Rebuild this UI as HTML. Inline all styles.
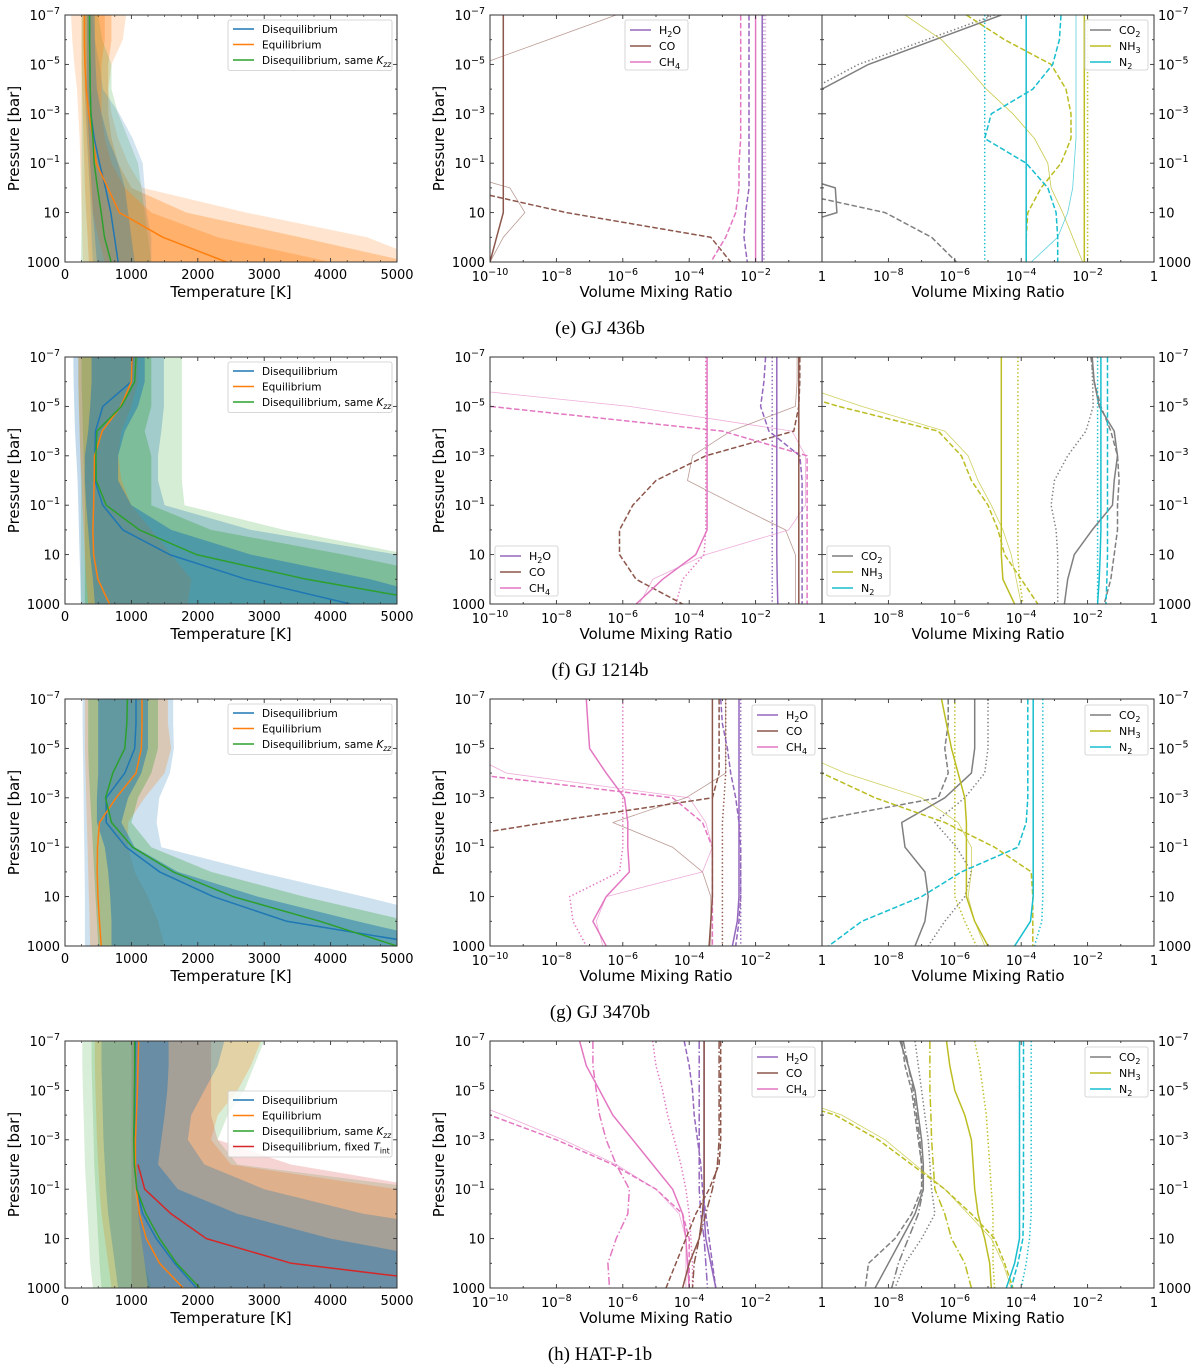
<!DOCTYPE html>
<html><head><meta charset="utf-8">
<style>
html,body{margin:0;padding:0;background:#fff;}
svg{display:block;font-family:"DejaVu Sans","Liberation Sans",sans-serif;}
</style></head>
<body>
<svg id="fig" width="1200" height="1371" viewBox="0 0 1200 1371" xmlns="http://www.w3.org/2000/svg"></svg>
<script>
// ---------- data (pressure levels log10 bar) ----------
const pLevels=[-7,-6,-5,-4,-3,-2,-1,0,1,2,3];
const captions=["(e) GJ 436b","(f) GJ 1214b","(g) GJ 3470b","(h) HAT-P-1b"];
const tempTicks=[0,1000,2000,3000,4000,5000];
const presTicks=[-7,-5,-3,-1,1,3];
const vmrTicks=[-10,-8,-6,-4,-2,0];

// Row 1 temperature profiles (K)
const t1_diseq=[370,370,375,380,390,440,520,610,690,745,800];
const t1_equil=[290,290,300,320,360,420,470,645,820,1475,2430];
const t1_same=[370,370,375,380,390,420,440,490,545,595,695];
const b1_oLight_lo=[90,110,140,180,200,220,230,240,250,260,270];
const b1_oLight_hi=[920,870,700,650,700,800,950,1170,2730,4550,5500];
const b1_oMed_lo=[250,250,250,260,270,280,290,300,320,340,360];
const b1_oMed_hi=[700,700,650,650,650,700,800,1000,1830,3540,5200];
const b1_oDark_lo=[300,300,300,300,320,340,360,380,420,500,600];
const b1_oDark_hi=[600,600,550,550,550,600,700,900,1300,2300,4000];
const b1_blue_lo=[280,280,290,300,310,330,350,370,390,400,420];
const b1_blue_hi=[420,450,520,570,820,1020,1170,1200,1230,1300,1300];
const b1_green_lo=[250,250,250,250,250,250,250,250,250,245,240];
const b1_green_hi=[500,560,700,700,800,950,1100,1150,1200,1250,1300];
const b1_dark_lo=[330,330,330,330,340,360,380,400,420,450,480];
const b1_dark_hi=[450,450,460,480,550,650,800,900,950,1000,1050];

// Row 2
const t2_diseq=[1020,1000,570,460,450,450,570,870,1575,2730,4300];
const t2_equil=[1010,1000,840,560,445,440,430,420,430,495,670];
const t2_same=[1070,1050,850,480,465,470,620,1120,1980,3640,5760];
const b2_gLight_lo=[200,200,210,220,230,240,240,240,240,240,240];
const b2_gLight_hi=[1760,1760,1760,1760,1760,1760,1800,3300,5200,6500,8000];
const b2_teal_lo=[125,130,140,150,170,190,200,210,220,230,240];
const b2_teal_hi=[1490,1490,1490,1450,1400,1400,1500,2800,5000,7000,9000];
const b2_gMed_lo=[250,250,260,270,280,290,300,300,300,300,300];
const b2_gMed_hi=[1300,1300,1300,1200,1300,1300,1300,2200,4200,6000,8000];
const b2_orange_lo=[200,200,210,220,230,250,260,280,300,320,350];
const b2_orange_hi=[1100,1100,1000,850,800,850,1000,1300,1600,1900,1850];
const b2_dark_lo=[400,400,380,350,300,300,320,350,380,420,450];
const b2_dark_hi=[1200,1200,1100,900,800,800,1000,1600,2800,4600,6000];

// Row 3
const t3_diseq=[1070,1070,1050,900,620,620,920,1425,2230,3340,5600];
const t3_equil=[1160,1160,1150,1070,770,520,490,485,495,520,545];
const t3_same=[940,930,900,720,610,700,1020,1630,2530,3840,5000];
const b3_env_lo=[265,265,270,275,280,285,290,295,300,300,300];
const b3_env_hi=[1630,1630,1640,1580,1420,1380,1450,2900,4500,6000,8000];
const b3_orange_lo=[300,300,300,310,320,330,340,350,360,370,380];
const b3_orange_hi=[1550,1550,1600,1500,1200,950,950,1050,1250,1400,1500];
const b3_teal_lo=[350,350,350,360,380,400,420,440,460,480,500];
const b3_teal_hi=[1400,1400,1400,1300,1100,1000,1300,2200,3600,5200,7000];
const b3_dark_lo=[500,500,500,500,480,480,600,650,680,700,700];
const b3_dark_hi=[1250,1250,1250,1150,950,850,1050,1700,2900,4400,6000];

// Row 4
const t4_diseq=[1060,1055,1050,1050,1045,1045,1080,1170,1375,1650,1980];
const t4_equil=[1110,1100,1090,1075,1060,1060,1075,1120,1225,1425,1780];
const t4_same=[1050,1050,1045,1040,1035,1045,1080,1220,1425,1680,2030];
const t4_fixed=[NaN,NaN,NaN,NaN,NaN,1100,1200,1600,2130,3410,6500];
const b4_env_lo=[260,260,270,280,290,300,320,340,360,380,420];
const b4_env_hi=[3000,2850,2700,2450,2300,2600,5500,9000,9000,9000,9000];
const b4_orange_lo=[450,450,460,470,480,500,520,550,600,650,700];
const b4_orange_hi=[2950,2800,2600,2300,2200,2500,5000,9000,9000,9000,9000];
const b4_red_lo=[1000,1000,1000,1000,1000,1000,1000,1000,1000,1000,1000];
const b4_red_hi=[2200,2200,2200,2200,2300,3400,5600,9000,9000,9000,9000];
const b4_gray_lo=[550,550,560,570,580,600,620,650,700,750,800];
const b4_gray_hi=[2400,2300,2100,1900,1850,2100,3000,4500,7000,9000,9000];
const b4_left_lo=[400,400,410,420,430,440,460,480,500,520,550];
const b4_left_hi=[1050,1050,1050,1050,1050,1050,1050,1100,1150,1200,1300];
const b4_dark_lo=[1050,1050,1050,1050,1050,1050,1080,1100,1150,1200,1250];
const b4_dark_hi=[1560,1560,1540,1500,1450,1400,1700,2600,4000,6000,9000];

// ---------- VMR profiles (log10 VMR) ----------
const v1_h2o_s=[-1.8,-1.8,-1.8,-1.8,-1.8,-1.8,-1.8,-1.8,-1.8,-1.8,-1.8];
const v1_h2o_d=[-2.2,-2.2,-2.2,-2.2,-2.2,-2.2,-2.2,-2.2,-2.3,-2.35,-2.25];
const v1_h2o_t=[-1.75,-1.75,-1.75,-1.75,-1.75,-1.75,-1.75,-1.75,-1.75,-1.75,-1.75];
const v1_co_s=[-9.6,-9.6,-9.6,-9.6,-9.6,-9.6,-9.6,-9.6,-9.6,-9.8,-10];
const v1_co_d=[-14,-14,-14,-14,-14,-14,-14,-11,-7.7,-3.35,-2.75];
const v1_co_t1=[-6.2,-8.25,-10.3,-12.4,-14,-14,-14,-14,-14,-14,-14];
const v1_co_t2=[-14,-14,-14,-14,-14,-14,-12,-9.4,-8.95,-9.6,-10];
const v1_ch4_s=[-2.0,-2.0,-2.0,-2.0,-2.0,-2.0,-2.0,-2.0,-2.0,-2.0,-2.0];
const v1_ch4_d=[-2.45,-2.45,-2.45,-2.45,-2.45,-2.45,-2.5,-2.5,-2.6,-2.9,-3.35];
const v1_ch4_t=[-1.7,-1.7,-1.7,-1.7,-1.7,-1.7,-1.7,-1.7,-1.72,-1.75,-1.75];
const w1_co2_s=[-4.6,-6.6,-8.6,-10,-12,-14,-12,-9.6,-9.55,-12,-14];
const w1_co2_t=[-4.8,-6.85,-8.9,-10.3,-12.5,-14,-14,-14,-14,-14,-14];
const w1_co2_d=[-14,-14,-14,-14,-14,-14,-14,-11.5,-8.1,-6.7,-5.95];
const w1_nh3_s=[-2.1,-2.1,-2.1,-2.1,-2.1,-2.1,-2.1,-2.1,-2.1,-2.1,-2.1];
const w1_nh3_o=[-2.0,-2.0,-2.0,-2.0,-2.0,-2.0,-2.0,-2.0,-2.0,-2.0,-2.0];
const w1_nh3_t=[-7.5,-6.4,-5.7,-5.05,-4.25,-3.6,-3.2,-3.1,-2.75,-2.45,-2.15];
const w1_nh3_d=[-5.65,-4.5,-3.1,-2.65,-2.5,-2.5,-2.8,-3.4,-3.8,-3.85,-3.85];
const w1_n2_s=[-3.85,-3.85,-3.85,-3.85,-3.85,-3.85,-3.85,-3.85,-3.85,-3.85,-3.85];
const w1_n2_o=[-5.1,-5.1,-5.1,-5.1,-5.1,-5.1,-5.1,-5.1,-5.1,-5.1,-5.1];
const w1_n2_d=[-2.8,-2.85,-3.05,-3.65,-4.9,-5.1,-3.85,-3.2,-2.95,-2.9,-2.9];
const w1_n2_t=[-2.35,-2.35,-2.35,-2.35,-2.35,-2.35,-2.4,-2.45,-2.6,-2.9,-3.7];

const v2_h2o_s=[-1.36,-1.36,-1.36,-1.36,-1.36,-1.36,-1.36,-1.36,-1.36,-1.35,-1.33];
const v2_h2o_d=[-1.7,-1.75,-1.85,-1.6,-0.67,-0.6,-0.6,-0.6,-0.6,-0.6,-0.6];
const v2_h2o_o=[-1.5,-1.5,-1.5,-1.5,-1.5,-1.5,-1.5,-1.5,-1.5,-1.5,-1.5];
const v2_co_s=[-0.7,-0.7,-0.7,-0.7,-0.7,-0.7,-0.7,-0.7,-0.7,-0.7,-0.7];
const v2_co_d=[-0.67,-0.67,-0.7,-0.85,-3.5,-5.0,-5.7,-6.1,-6.1,-5.6,-4.2];
const v2_co_t=[-0.75,-0.75,-0.8,-2.75,-3.9,-4.05,-2.6,-1.1,-0.8,-0.8,-0.8];
const v2_ch4_s=[-3.46,-3.46,-3.46,-3.46,-3.46,-3.46,-3.46,-3.46,-3.8,-4.8,-5.6];
const v2_ch4_o=[-3.5,-3.5,-3.5,-3.5,-3.5,-3.5,-3.5,-3.5,-3.55,-4.2,-4.4];
const v2_ch4_d=[-14,-12,-10,-3.0,-0.45,-0.45,-0.45,-0.45,-0.45,-0.45,-0.45];
const v2_ch4_t=[-14,-13,-5.8,-0.9,-0.5,-0.5,-0.5,-1.0,-3.5,-5.1,-5.5];
const w2_co2_s=[-1.86,-1.8,-1.65,-1.2,-1.1,-1.2,-1.25,-1.86,-2.4,-2.6,-2.7];
const w2_co2_d=[-1.9,-1.8,-1.6,-1.3,-1.1,-1.05,-1.1,-1.1,-1.2,-1.3,-1.5];
const w2_co2_o=[-1.88,-1.85,-1.83,-2.05,-2.6,-3.0,-3.1,-2.95,-2.9,-2.9,-2.9];
const w2_nh3_s=[-4.6,-4.6,-4.6,-4.6,-4.6,-4.6,-4.6,-4.6,-4.6,-4.55,-4.2];
const w2_nh3_o=[-4.1,-4.1,-4.1,-4.1,-4.1,-4.1,-4.1,-4.1,-4.1,-4.05,-3.95];
const w2_nh3_d=[-14,-12,-9.5,-6.5,-5.8,-5.5,-5.0,-4.7,-4.5,-4.0,-3.5];
const w2_nh3_t=[-14,-11,-8.8,-6.3,-5.6,-5.3,-4.9,-4.55,-4.3,-4.15,-4.0];
const w2_n2_s=[-1.6,-1.6,-1.6,-1.6,-1.6,-1.6,-1.6,-1.6,-1.62,-1.65,-1.7];
const w2_n2_d=[-1.4,-1.4,-1.4,-1.4,-1.4,-1.4,-1.4,-1.4,-1.4,-1.42,-1.45];
const w2_n2_o=[-1.7,-1.7,-1.7,-1.7,-1.7,-1.7,-1.7,-1.7,-1.7,-1.7,-1.7];

const v3_h2o_s=[-2.5,-2.5,-2.5,-2.5,-2.5,-2.5,-2.5,-2.5,-2.5,-2.55,-2.7];
const v3_h2o_d=[-3.05,-3.0,-2.85,-2.75,-2.6,-2.5,-2.45,-2.45,-2.45,-2.5,-2.6];
const v3_h2o_o=[-2.45,-2.45,-2.45,-2.45,-2.45,-2.45,-2.45,-2.45,-2.45,-2.45,-2.45];
const v3_co_s=[-3.3,-3.3,-3.3,-3.3,-3.3,-3.3,-3.3,-3.3,-3.3,-3.35,-3.4];
const v3_co_d=[-3.1,-3.1,-3.1,-3.1,-3.3,-8.3,-13,-14,-14,-14,-14];
const v3_co_t=[-2.9,-2.9,-2.9,-2.9,-4.1,-6.3,-4.5,-3.6,-3.35,-3.35,-3.35];
const v3_co_o=[-2.9,-2.9,-2.9,-2.9,-2.95,-3.0,-3.0,-3.0,-3.0,-3.0,-3.0];
const v3_ch4_s=[-7.1,-7.05,-7.0,-6.5,-5.95,-5.85,-5.85,-5.8,-6.5,-6.9,-6.5];
const v3_ch4_o=[-6,-6,-6,-6,-6,-6,-6,-6.1,-7.6,-7.5,-7.1];
const v3_ch4_d=[-14,-13,-12,-10.8,-4.5,-3.6,-3.3,-3.3,-3.3,-3.3,-3.3];
const v3_ch4_t=[-14,-12.5,-11,-9.5,-4.0,-3.5,-3.3,-3.6,-6.5,-6.8,-6.6];
const w3_co2_s=[-5.4,-5.4,-5.4,-5.5,-6.3,-7.6,-7.5,-6.9,-6.8,-6.9,-7.2];
const w3_co2_d=[-6.2,-6.2,-6.3,-6.2,-6.5,-10.5,-13,-14,-14,-14,-14];
const w3_co2_o=[-5.0,-5.0,-5.0,-5.1,-5.7,-6.6,-5.95,-5.5,-5.7,-6.3,-6.8];
const w3_nh3_s=[-6.4,-6.25,-6.1,-5.9,-5.7,-5.65,-5.65,-5.65,-5.65,-5.4,-5.0];
const w3_nh3_o=[-6.0,-6.0,-6.0,-6.0,-6.0,-6.0,-6.0,-6.0,-6.0,-5.7,-5.35];
const w3_nh3_d=[-14,-13,-12,-10,-8.4,-6.3,-4.8,-3.7,-3.65,-3.65,-3.65];
const w3_nh3_t=[-14,-13,-11,-9.3,-7.0,-5.9,-5.5,-5.5,-5.6,-5.4,-5.1];
const w3_n2_s=[-3.64,-3.64,-3.64,-3.64,-3.64,-3.64,-3.64,-3.64,-3.64,-3.72,-4.2];
const w3_n2_d=[-3.8,-3.8,-3.8,-3.8,-3.8,-3.85,-4.1,-5.8,-7,-8.8,-9.8];
const w3_n2_o=[-3.35,-3.35,-3.35,-3.35,-3.35,-3.35,-3.35,-3.35,-3.35,-3.38,-3.6];

const v4_h2o_s=[-3.55,-3.55,-3.55,-3.55,-3.55,-3.55,-3.55,-3.55,-3.5,-3.35,-3.2];
const v4_h2o_d=[-4.15,-4.0,-3.9,-3.85,-3.75,-3.65,-3.6,-3.5,-3.4,-3.3,-3.2];
const v4_h2o_a=[-3.7,-3.7,-3.7,-3.7,-3.7,-3.7,-3.7,-3.65,-3.55,-3.5,-3.45];
const v4_co_s=[-3.55,-3.55,-3.55,-3.55,-3.55,-3.55,-3.55,-3.6,-3.7,-4.0,-4.2];
const v4_co_d=[-3.05,-3.05,-3.05,-3.05,-3.05,-3.1,-3.4,-3.8,-4.1,-4.4,-4.7];
const v4_co_a=[-3.1,-3.1,-3.1,-3.1,-3.1,-3.15,-3.3,-3.5,-3.7,-3.85,-3.9];
const v4_ch4_s=[-7.3,-7.1,-6.7,-6.3,-5.7,-5.1,-4.5,-4.2,-4.1,-4.05,-4.0];
const v4_ch4_a=[-6.9,-6.9,-6.8,-6.7,-6.5,-6.2,-5.8,-5.85,-6.2,-6.45,-6.4];
const v4_ch4_o=[-5.1,-5.0,-4.8,-4.65,-4.45,-4.25,-4.1,-4.0,-3.95,-3.9,-3.9];
const v4_ch4_d=[-14,-13,-12,-10,-8,-6.3,-5.0,-4.2,-4.0,-4.0,-4.0];
const v4_ch4_t=[-14,-13,-11.5,-9.6,-7.8,-6.2,-5.0,-4.3,-4.1,-4.1,-4.1];
const w4_co2_s=[-7.65,-7.4,-7.2,-7.1,-7.0,-6.95,-6.95,-7.2,-7.6,-8.0,-8.4];
const w4_co2_d=[-7.6,-7.5,-7.3,-7.2,-7.1,-7.0,-7.0,-7.3,-7.8,-8.6,-8.7];
const w4_co2_a=[-7.55,-7.4,-7.25,-7.15,-7.05,-7.0,-6.95,-7.1,-7.4,-7.7,-7.9];
const w4_co2_o=[-7.2,-7.1,-7.0,-6.9,-6.8,-6.75,-6.7,-6.6,-7.0,-7.5,-7.8];
const w4_nh3_s=[-6.25,-6.15,-6.0,-5.7,-5.5,-5.45,-5.4,-5.3,-5.1,-4.95,-4.9];
const w4_nh3_o=[-5.4,-5.25,-5.15,-5.05,-5.0,-4.95,-4.9,-4.85,-4.85,-4.85,-4.8];
const w4_nh3_a=[-6.75,-6.75,-6.75,-6.72,-6.7,-6.65,-6.6,-6.3,-6.1,-5.7,-5.5];
const w4_nh3_d=[-14,-13,-12,-9.6,-8.3,-7.3,-6.3,-5.5,-4.8,-4.5,-4.25];
const w4_nh3_t=[-14,-13,-11.5,-9.4,-8.1,-7.2,-6.3,-5.6,-4.9,-4.55,-4.3];
const w4_n2_s=[-4.05,-4.05,-4.05,-4.05,-4.05,-4.05,-4.05,-4.05,-4.05,-4.2,-4.45];
const w4_n2_d=[-3.93,-3.93,-3.93,-3.93,-3.93,-3.93,-3.93,-3.93,-3.95,-4.1,-4.3];
const w4_n2_o=[-3.7,-3.7,-3.7,-3.7,-3.7,-3.7,-3.7,-3.7,-3.75,-3.85,-4.0];

// ---------- drawing ----------
const NS="http://www.w3.org/2000/svg";
const svg=document.getElementById('fig');
const C={blue:'#1f77b4',orange:'#ff7f0e',green:'#2ca02c',red:'#d62728',purple:'#9467bd',brown:'#8c564b',pink:'#e377c2',gray:'#7f7f7f',olive:'#bcbd22',cyan:'#17becf'};
const TOPS=[15,357,699,1041], H=247;
const PX={left:[65,397],mid:[490,822],right:[822,1154]};
function el(tag,attrs,parent){const e=document.createElementNS(NS,tag);for(const k in attrs)e.setAttribute(k,attrs[k]);(parent||svg).appendChild(e);return e;}
function yP(r,p){return TOPS[r]+(p+7)*H/10;}
function xT(t){return PX.left[0]+t/5000*(PX.left[1]-PX.left[0]);}
function xV(panel,v){const a=PX[panel];return a[0]+(v+10)*(a[1]-a[0])/10;}
const DASH={solid:'',dash:'5.5,2.4',dot:'1.4,2.4',dashdot:'8,2.5,1.5,2.5'};

function clip(id,x0,x1,r){const cp=el('clipPath',{id:id});el('rect',{x:x0,y:TOPS[r],width:x1-x0,height:H},cp);return 'url(#'+id+')';}

function drawBand(g,r,lo,hi,color,op,name){
  let pts=[];
  for(let i=0;i<pLevels.length;i++)pts.push(xT(lo[i]).toFixed(1)+','+yP(r,pLevels[i]).toFixed(1));
  for(let i=pLevels.length-1;i>=0;i--)pts.push(xT(hi[i]).toFixed(1)+','+yP(r,pLevels[i]).toFixed(1));
  const e=el('polygon',{points:pts.join(' '),fill:color,'fill-opacity':op},g);
  
  
}
function drawProfile(g,r,vals,xf,color,style,w,op,name){
  let d='';let started=false;
  for(let i=0;i<pLevels.length;i++){
    if(isNaN(vals[i])){continue;}
    d+=(started?'L':'M')+xf(vals[i]).toFixed(1)+','+yP(r,pLevels[i]).toFixed(1);
    started=true;
  }
  const e=el('path',{d:d,fill:'none',stroke:color,'stroke-width':w,'stroke-opacity':op,'stroke-dasharray':DASH[style],'stroke-linejoin':'round'},g);
  
  
}
function fmtP(p){if(p===1)return['10',null];if(p===3)return['1000',null];return['10','\u2212'+(-p)];}
function fmtV(v){if(v===0)return['1',null];return['10','\u2212'+(-v)];}

function frame(g,r,x0,x1,opts){
  const y0=TOPS[r];
  const fr=el('rect',{x:x0,y:y0,width:x1-x0,height:H,fill:'none',stroke:'#333','stroke-width':1},g);
  
  
  for(let p=-7;p<=3;p++){
    const y=yP(r,p);const L=(p%2!==0)?4:2;
    el('line',{x1:x0,y1:y,x2:x0+L,y2:y,stroke:'#333','stroke-width':0.9},g);
    el('line',{x1:x1,y1:y,x2:x1-L,y2:y,stroke:'#333','stroke-width':0.9},g);
  }
  if(opts.yLabelsLeft||opts.yLabelsRight){
    presTicks.forEach(p=>{
      const f=fmtP(p);const y=yP(r,p)+5;
      const t=el('text',{x:opts.yLabelsLeft?x0-5:x1+4,y:y,'font-size':13,'text-anchor':opts.yLabelsLeft?'end':'start',fill:'#000'},g);
      
      
      if(f[1]===null){t.textContent=f[0];}else{t.appendChild(document.createTextNode(f[0]));const s=el('tspan',{dy:'-6','font-size':'9.5'},t);s.textContent=f[1];}
    });
  }
}

for(let r=0;r<4;r++){
  const row=el('g',{});
  
  
  const gl=el('g',{},row);
  
  
  const gc=el('g',{'clip-path':clip('cl'+r,65,397,r)},gl);
  let bands,profs;
  if(r===0){
    bands=[[b1_oLight_lo,b1_oLight_hi,C.orange,0.2],[b1_oMed_lo,b1_oMed_hi,C.orange,0.3],[b1_green_lo,b1_green_hi,C.green,0.2],[b1_blue_lo,b1_blue_hi,C.blue,0.2],[b1_oDark_lo,b1_oDark_hi,C.orange,0.3],[b1_dark_lo,b1_dark_hi,C.blue,0.3]];
    profs=[[t1_diseq,C.blue],[t1_equil,C.orange],[t1_same,C.green]];
  }else if(r===1){
    bands=[[b2_gLight_lo,b2_gLight_hi,C.green,0.2],[b2_teal_lo,b2_teal_hi,C.blue,0.28],[b2_gMed_lo,b2_gMed_hi,C.green,0.3],[b2_orange_lo,b2_orange_hi,C.orange,0.3],[b2_dark_lo,b2_dark_hi,C.blue,0.5]];
    profs=[[t2_diseq,C.blue],[t2_equil,C.orange],[t2_same,C.green]];
  }else if(r===2){
    bands=[[b3_env_lo,b3_env_hi,C.blue,0.22],[b3_orange_lo,b3_orange_hi,C.orange,0.25],[b3_teal_lo,b3_teal_hi,C.green,0.3],[b3_dark_lo,b3_dark_hi,C.blue,0.5]];
    profs=[[t3_diseq,C.blue],[t3_equil,C.orange],[t3_same,C.green]];
  }else{
    bands=[[b4_env_lo,b4_env_hi,C.green,0.18],[b4_orange_lo,b4_orange_hi,C.orange,0.25],[b4_red_lo,b4_red_hi,C.red,0.2],[b4_gray_lo,b4_gray_hi,C.blue,0.3],[b4_left_lo,b4_left_hi,C.green,0.2],[b4_dark_lo,b4_dark_hi,C.blue,0.45]];
    profs=[[t4_diseq,C.blue],[t4_equil,C.orange],[t4_same,C.green],[t4_fixed,C.red]];
  }
  bands.forEach((b,i)=>drawBand(gc,r,b[0],b[1],b[2],b[3],'uncertainty-band-'+(i+1)));
  profs.forEach((p,i)=>drawProfile(gc,r,p[0],xT,p[1],'solid',1.5,1,'temperature-profile-'+(i+1)));
  frame(gl,r,65,397,{yLabelsLeft:true});
  tempTicks.forEach(t=>{
    const x=xT(t);
    el('line',{x1:x,y1:TOPS[r]+H,x2:x,y2:TOPS[r]+H-4,stroke:'#333','stroke-width':0.9},gl);
    el('line',{x1:x,y1:TOPS[r],x2:x,y2:TOPS[r]+4,stroke:'#333','stroke-width':0.9},gl);
    const tx=el('text',{x:x,y:TOPS[r]+H+17,'font-size':13,'text-anchor':'middle'},gl);
    
    
    tx.textContent=String(t);
  });
  for(let t=250;t<5000;t+=250){if(t%1000===0)continue;const x=xT(t);
    el('line',{x1:x,y1:TOPS[r]+H,x2:x,y2:TOPS[r]+H-2,stroke:'#333','stroke-width':0.7},gl);
    el('line',{x1:x,y1:TOPS[r],x2:x,y2:TOPS[r]+2,stroke:'#333','stroke-width':0.7},gl);}
  let ax=el('text',{x:231,y:TOPS[r]+H+35,'font-size':15,'text-anchor':'middle'},gl);
  
  
  ax.textContent='Temperature [K]';
  let ay=el('text',{x:0,y:0,'font-size':15,'text-anchor':'middle',transform:'translate(19,'+(TOPS[r]+H/2)+') rotate(-90)'},gl);
  
  
  ay.textContent='Pressure [bar]';
  const lg=el('g',{},gl);
  
  
  const ly=(r===3)?1091:TOPS[r]+5;
  const entries=(r===3)?[['Disequilibrium',C.blue],['Equilibrium',C.orange],['K',C.green],['T',C.red]]:[['Disequilibrium',C.blue],['Equilibrium',C.orange],['K',C.green]];
  el('rect',{x:228,y:ly,width:164,height:entries.length*15.5+4,fill:'#fff','fill-opacity':0.8,stroke:'#ccc','stroke-width':0.8,rx:2},lg);
  entries.forEach((e,i)=>{
    const yy=ly+9+i*15.5;
    el('line',{x1:233,y1:yy,x2:254,y2:yy,stroke:e[1],'stroke-width':1.5},lg);
    const t=el('text',{x:262,y:yy+4,'font-size':10.5},lg);
    
    
    if(e[0]==='K'){t.appendChild(document.createTextNode('Disequilibrium, same '));const k=el('tspan',{'font-style':'italic'},t);k.textContent='K';const s=el('tspan',{dy:'3','font-size':'7.5','font-style':'italic'},t);s.textContent='zz';}
    else if(e[0]==='T'){t.appendChild(document.createTextNode('Disequilibrium, fixed '));const k=el('tspan',{'font-style':'italic'},t);k.textContent='T';const s=el('tspan',{dy:'3','font-size':'7.5'},t);s.textContent='int';}
    else t.textContent=e[0];
  });

  const specs={
    0:{mid:[[v1_co_t1,'brown','solid',0.8,0.6],[v1_co_t2,'brown','solid',0.8,0.6],[v1_co_s,'brown','solid',1.5,1],[v1_co_d,'brown','dash',1.5,1],[v1_ch4_d,'pink','dash',1.5,1],[v1_h2o_d,'purple','dash',1.5,1],[v1_ch4_s,'pink','solid',1.5,1],[v1_h2o_s,'purple','solid',1.5,1],[v1_ch4_t,'pink','dot',1.2,0.6],[v1_h2o_t,'purple','dot',1.2,0.8]],
       right:[[w1_co2_s,'gray','solid',1.5,1],[w1_co2_t,'gray','dot',1.5,1],[w1_co2_d,'gray','dash',1.5,1],[w1_nh3_t,'olive','solid',0.8,0.8],[w1_nh3_d,'olive','dash',1.5,1],[w1_nh3_s,'olive','solid',1.5,1],[w1_nh3_o,'olive','dot',1.5,1],[w1_n2_s,'cyan','solid',1.5,1],[w1_n2_o,'cyan','dot',1.5,1],[w1_n2_d,'cyan','dash',1.5,1],[w1_n2_t,'cyan','solid',0.8,0.7]],
       midLeg:[625,20],rightLeg:[1085,20]},
    1:{mid:[[v2_co_t,'brown','solid',0.8,0.6],[v2_ch4_t,'pink','solid',0.8,0.6],[v2_co_d,'brown','dash',1.5,1],[v2_ch4_d,'pink','dash',1.5,1],[v2_ch4_s,'pink','solid',1.5,1],[v2_ch4_o,'pink','dot',1.5,1],[v2_h2o_s,'purple','solid',1.5,1],[v2_h2o_d,'purple','dash',1.5,1],[v2_h2o_o,'purple','dot',1.5,1],[v2_co_s,'brown','solid',1.5,1]],
       right:[[w2_nh3_t,'olive','solid',0.8,0.7],[w2_nh3_d,'olive','dash',1.5,1],[w2_nh3_s,'olive','solid',1.5,1],[w2_nh3_o,'olive','dot',1.5,1],[w2_co2_s,'gray','solid',1.5,1],[w2_co2_d,'gray','dash',1.5,1],[w2_co2_o,'gray','dot',1.5,1],[w2_n2_s,'cyan','solid',1.5,1],[w2_n2_d,'cyan','dash',1.5,1],[w2_n2_o,'cyan','dot',1.5,1]],
       midLeg:[495,546],rightLeg:[827,546]},
    2:{mid:[[v3_co_t,'brown','solid',0.8,0.6],[v3_ch4_t,'pink','solid',0.8,0.6],[v3_ch4_s,'pink','solid',1.5,1],[v3_ch4_o,'pink','dot',1.5,1],[v3_ch4_d,'pink','dash',1.5,1],[v3_co_d,'brown','dash',1.5,1],[v3_co_s,'brown','solid',1.5,1],[v3_co_o,'brown','dot',1.5,1],[v3_h2o_d,'purple','dash',1.5,1],[v3_h2o_s,'purple','solid',1.5,1],[v3_h2o_o,'purple','dot',1.5,1]],
       right:[[w3_co2_s,'gray','solid',1.5,1],[w3_co2_d,'gray','dash',1.5,1],[w3_co2_o,'gray','dot',1.5,1],[w3_nh3_t,'olive','solid',0.8,0.7],[w3_nh3_s,'olive','solid',1.5,1],[w3_nh3_o,'olive','dot',1.5,1],[w3_nh3_d,'olive','dash',1.5,1],[w3_n2_d,'cyan','dash',1.5,1],[w3_n2_s,'cyan','solid',1.5,1],[w3_n2_o,'cyan','dot',1.5,1]],
       midLeg:[752,705],rightLeg:[1085,705]},
    3:{mid:[[v4_ch4_t,'pink','solid',0.8,0.6],[v4_ch4_s,'pink','solid',1.5,1],[v4_ch4_a,'pink','dashdot',1.5,1],[v4_ch4_o,'pink','dot',1.5,1],[v4_ch4_d,'pink','dash',1.5,1],[v4_h2o_d,'purple','dash',1.5,1],[v4_h2o_a,'purple','dashdot',1.5,1],[v4_h2o_s,'purple','solid',1.5,1],[v4_co_s,'brown','solid',1.5,1],[v4_co_d,'brown','dash',1.5,1],[v4_co_a,'brown','dashdot',1.5,1]],
       right:[[w4_co2_s,'gray','solid',1.5,1],[w4_co2_d,'gray','dash',1.5,1],[w4_co2_a,'gray','dashdot',1.5,1],[w4_co2_o,'gray','dot',1.5,1],[w4_nh3_t,'olive','solid',0.8,0.7],[w4_nh3_s,'olive','solid',1.5,1],[w4_nh3_o,'olive','dot',1.5,1],[w4_nh3_a,'olive','dashdot',1.5,1],[w4_nh3_d,'olive','dash',1.5,1],[w4_n2_s,'cyan','solid',1.5,1],[w4_n2_d,'cyan','dash',1.5,1],[w4_n2_o,'cyan','dot',1.5,1]],
       midLeg:[752,1047],rightLeg:[1085,1047]}
  }[r];
  ['mid','right'].forEach(panel=>{
    const gp=el('g',{},row);
    
    
    const a=PX[panel];
    const gcl=el('g',{'clip-path':clip('c'+panel+r,a[0],a[1],r)},gp);
    specs[panel].forEach((s,i)=>drawProfile(gcl,r,s[0],v=>xV(panel,v),C[s[1]],s[2],s[3],s[4],'vmr-profile-'+s[1]+'-'+(i+1)));
    frame(gp,r,a[0],a[1],{yLabelsLeft:panel==='mid',yLabelsRight:panel==='right'});
    for(let v=-10;v<=0;v++){
      const x=xV(panel,v);const L=(v%2===0)?4:2;
      el('line',{x1:x,y1:TOPS[r]+H,x2:x,y2:TOPS[r]+H-L,stroke:'#333','stroke-width':0.9},gp);
      el('line',{x1:x,y1:TOPS[r],x2:x,y2:TOPS[r]+L,stroke:'#333','stroke-width':0.9},gp);
    }
    vmrTicks.forEach(v=>{
      if(panel==='mid'&&v===0)return;
      let f=fmtV(v);
      if(panel==='right'&&v===-10)f=['1',null];
      const t=el('text',{x:xV(panel,v),y:TOPS[r]+H+19,'font-size':13,'text-anchor':'middle'},gp);
      
      
      if(f[1]===null)t.textContent=f[0];else{t.appendChild(document.createTextNode(f[0]));const s=el('tspan',{dy:'-6','font-size':'9.5'},t);s.textContent=f[1];}
    });
    const xt=el('text',{x:(a[0]+a[1])/2,y:TOPS[r]+H+35,'font-size':15,'text-anchor':'middle'},gp);
    
    
    xt.textContent='Volume Mixing Ratio';
    if(panel==='mid'){
      const yt=el('text',{x:0,y:0,'font-size':15,'text-anchor':'middle',transform:'translate(444,'+(TOPS[r]+H/2)+') rotate(-90)'},gp);
      
      
      yt.textContent='Pressure [bar]';
    }
    const pos=specs[panel==='mid'?'midLeg':'rightLeg'];
    const lg2=el('g',{},gp);
    
    
    const items=panel==='mid'?[['H','2','O',C.purple],['CO','','',C.brown],['CH','4','',C.pink]]:[['CO','2','',C.gray],['NH','3','',C.olive],['N','2','',C.cyan]];
    el('rect',{x:pos[0],y:pos[1],width:63,height:50,fill:'#fff','fill-opacity':0.85,stroke:'#ccc','stroke-width':0.8,rx:2},lg2);
    items.forEach((it,i)=>{
      const yy=pos[1]+10+i*16;
      el('line',{x1:pos[0]+5,y1:yy,x2:pos[0]+26,y2:yy,stroke:it[3],'stroke-width':1.5},lg2);
      const t=el('text',{x:pos[0]+34,y:yy+4,'font-size':11},lg2);
      
      
      t.appendChild(document.createTextNode(it[0]));
      if(it[1]){const s=el('tspan',{dy:'3','font-size':'8'},t);s.textContent=it[1];}
      if(it[2]){const s=el('tspan',{dy:'-3'},t);s.textContent=it[2];}
    });
  });
  const cap=el('text',{x:600,y:TOPS[r]+H+72,'font-size':19,'text-anchor':'middle','font-family':'"Liberation Serif",serif'},row);
  
  
  cap.textContent=captions[r];
}
</script>
</body></html>
